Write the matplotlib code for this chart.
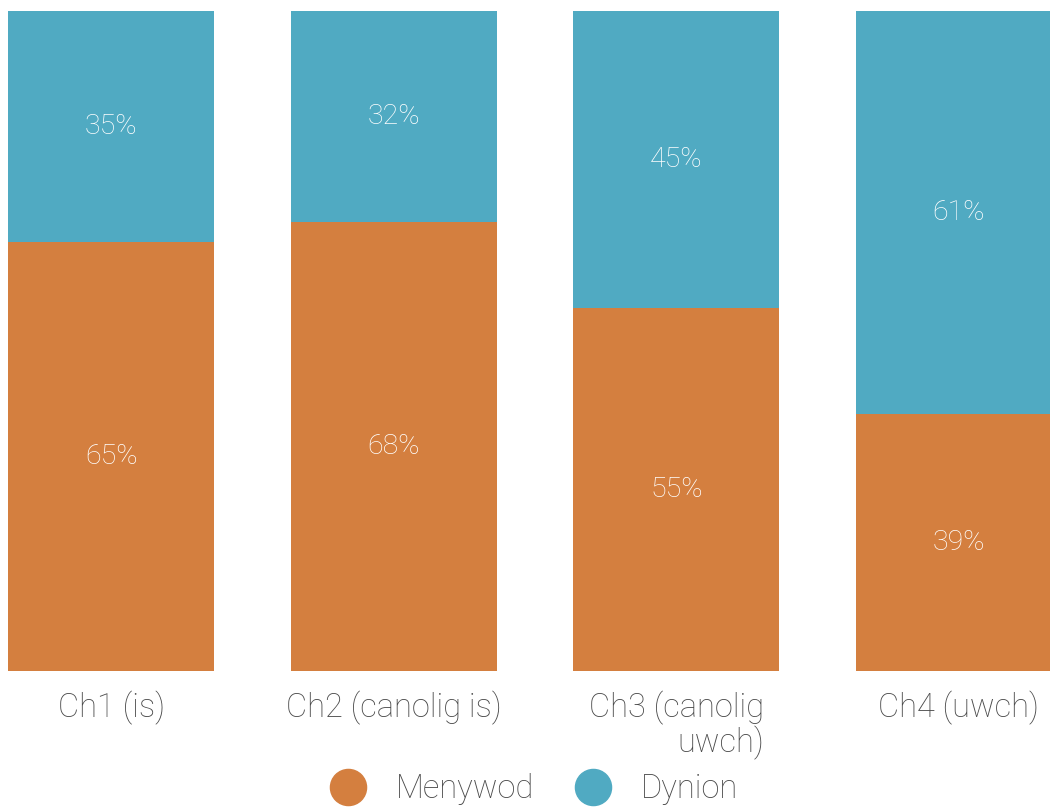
import matplotlib.pyplot as plt
from matplotlib.lines import Line2D

# Grwpiau a chanrannau
grwpiau = ['Ch1 (is)', 'Ch2 (canolig is)', 'Ch3 (canolig\nuwch)', 'Ch4 (uwch)']
menywod = [65, 68, 55, 39]
dynion = [35, 32, 45, 61]

lliw_menywod = '#d47f3f'
lliw_dynion = '#50aac2'
lliw_testun = '#4a4a4a'

plt.rcParams['font.family'] = ['Roboto', 'DejaVu Sans']
pwysau = 'light'

fig = plt.figure(figsize=(10.5, 8.07), dpi=100)
ax = fig.add_axes([0, 1 - 671/807, 1, 660/807])

x = range(len(grwpiau))
w = 0.729
ax.bar(x, menywod, width=w, color=lliw_menywod)
ax.bar(x, dynion, width=w, bottom=menywod, color=lliw_dynion)

# labeli canran y tu mewn i'r barrau
for i in x:
    ax.text(i, menywod[i] / 2, f'{menywod[i]}%', ha='center', va='center',
            color='white', fontsize=20.5, fontweight=pwysau)
    ax.text(i, menywod[i] + dynion[i] / 2, f'{dynion[i]}%', ha='center',
            va='center', color='white', fontsize=20.5, fontweight=pwysau)

ax.set_xlim(-0.393, 3.322)
ax.set_ylim(0, 100)
ax.set_xticks(list(x))
ax.set_xticklabels(grwpiau, fontsize=23.5, color=lliw_testun, fontweight=pwysau,
                   multialignment='right', linespacing=1.05)
ax.tick_params(axis='x', length=0, pad=14)
ax.set_yticks([])
for s in ax.spines.values():
    s.set_visible(False)

handles = [Line2D([], [], marker='o', ls='', ms=26, color=lliw_menywod),
           Line2D([], [], marker='o', ls='', ms=26, color=lliw_dynion)]
fig.legend(handles, ['Menywod', 'Dynion'], loc='center', ncol=2,
           bbox_to_anchor=(0.502, 0.022), frameon=False,
           labelcolor=lliw_testun, handletextpad=0.47, columnspacing=0.8,
           prop={'weight': pwysau, 'size': 23.5})

fig.savefig('out.png', dpi=100)
